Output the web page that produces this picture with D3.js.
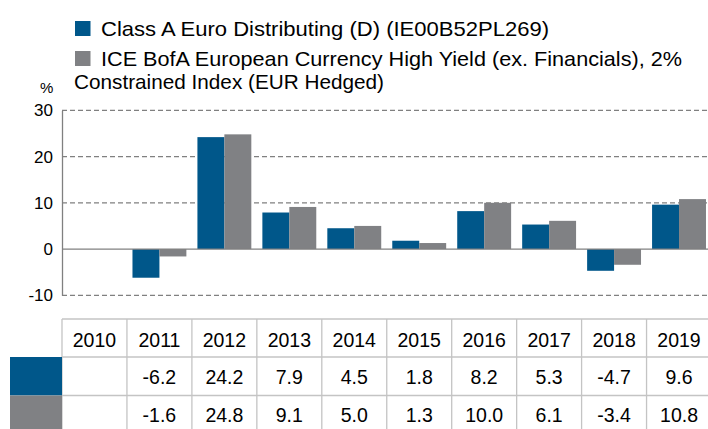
<!DOCTYPE html>
<html><head><meta charset="utf-8">
<script src="https://cdn.jsdelivr.net/npm/d3@7"></script>
<style>body{margin:0;background:#fff;} svg{display:block;font-family:"Liberation Sans",Arial,sans-serif;}</style>
</head><body>
<svg id="c" width="708" height="429"></svg>
<script>
const years = ["2010","2011","2012","2013","2014","2015","2016","2017","2018","2019"];
const fundValues = [null,-6.2,24.2,7.9,4.5,1.8,8.2,5.3,-4.7,9.6];
const indexValues = [null,-1.6,24.8,9.1,5.0,1.3,10.0,6.1,-3.4,10.8];
const yTicks = [-10,0,10,20,30];
const seriesNames = ["Class A Euro Distributing (D) (IE00B52PL269)",
  ["ICE BofA European Currency High Yield (ex. Financials), 2%","Constrained Index (EUR Hedged)"]];
const colors = ["#00578a","#808184"];

const svg = d3.select("#c");
const x0 = 62, x1 = 711.5;
const x = d3.scaleBand().domain(years).range([x0, x1]).paddingInner(0).paddingOuter(0);
const inner = d3.scaleBand().domain([0,1]).range([0, x.bandwidth()]).paddingInner(0).paddingOuter(0.205);
const y = d3.scaleLinear().domain([-10,30]).range([295.3,110.3]);

// gridlines
svg.append("g").selectAll("line").data(yTicks.filter(d=>d!==0)).join("line")
  .attr("x1",x0).attr("x2",x1).attr("y1",d=>y(d)).attr("y2",d=>y(d))
  .attr("stroke","#808080").attr("stroke-width",1.3).attr("stroke-dasharray","5,3");

// bars
const series = [fundValues, indexValues];
series.forEach((vals,si)=>{
  svg.append("g").selectAll("rect").data(years.map((yr,i)=>({yr,v:vals[i]})).filter(d=>d.v!==null)).join("rect")
    .attr("x",d=>x(d.yr)+inner(si)).attr("width",inner.bandwidth())
    .attr("y",d=>y(Math.max(0,d.v))).attr("height",d=>Math.abs(y(d.v)-y(0)))
    .attr("fill",colors[si]);
});

// zero line
svg.append("line").attr("x1",x0).attr("x2",x1).attr("y1",y(0)).attr("y2",y(0))
  .attr("stroke","#808080").attr("stroke-width",1.3);
// left axis
const yAxis = d3.axisLeft(y).tickValues(yTicks).tickSize(0).tickPadding(9).tickFormat(d=>String(d));
const ga = svg.append("g").attr("transform",`translate(${x0},0)`).call(yAxis);
ga.select(".domain").attr("stroke","#808080").attr("stroke-width",1.3);
ga.selectAll("text").attr("font-size",17).attr("fill","#000").attr("font-family","Liberation Sans, Arial, sans-serif");

svg.append("text").attr("x",40).attr("y",93).attr("font-size",15).text("%");

// legend
const lg = svg.append("g");
lg.append("rect").attr("x",75).attr("y",21).attr("width",15.5).attr("height",15).attr("fill",colors[0]);
lg.append("text").attr("x",101).attr("y",36).attr("font-size",21).attr("textLength",448).attr("lengthAdjust","spacingAndGlyphs").text(seriesNames[0]);
lg.append("rect").attr("x",75).attr("y",51).attr("width",15.5).attr("height",15).attr("fill",colors[1]);
lg.append("text").attr("x",101).attr("y",66).attr("font-size",21).attr("textLength",581).attr("lengthAdjust","spacingAndGlyphs").text(seriesNames[1][0]);
lg.append("text").attr("x",74).attr("y",89).attr("font-size",21).attr("textLength",310).attr("lengthAdjust","spacingAndGlyphs").text(seriesNames[1][1]);

// table
const rowTop = [319, 357, 395.5, 434];
const tg = svg.append("g");
const gridC = "#c4c4c4";
tg.selectAll("line.h").data(rowTop).join("line").attr("class","h")
  .attr("x1",x0).attr("x2",x1).attr("y1",d=>d).attr("y2",d=>d)
  .attr("stroke",gridC).attr("stroke-width",1.3);
tg.selectAll("line.v").data(years).join("line").attr("class","v")
  .attr("x1",d=>x(d)).attr("x2",d=>x(d)).attr("y1",rowTop[0]).attr("y2",429)
  .attr("stroke",gridC).attr("stroke-width",1.3);
tg.append("rect").attr("x",10).attr("y",rowTop[1]).attr("width",x0-10).attr("height",rowTop[2]-rowTop[1]).attr("fill",colors[0]);
tg.append("rect").attr("x",10).attr("y",rowTop[2]).attr("width",x0-10).attr("height",rowTop[3]-rowTop[2]).attr("fill",colors[1]);
tg.selectAll("text.yr").data(years).join("text").attr("class","yr")
  .attr("x",d=>x(d)+x.bandwidth()/2).attr("y",346.5).attr("text-anchor","middle").attr("font-size",19.5).text(d=>d);
series.forEach((vals,si)=>{
  tg.selectAll("text.v"+si).data(years.map((yr,i)=>({yr,v:vals[i]})).filter(d=>d.v!==null)).join("text")
    .attr("class","v"+si)
    .attr("x",d=>x(d.yr)+x.bandwidth()/2).attr("y",si===0?383.5:422).attr("text-anchor","middle").attr("font-size",19.5)
    .text(d=>d.v.toFixed(1));
});
</script>
</body></html>
